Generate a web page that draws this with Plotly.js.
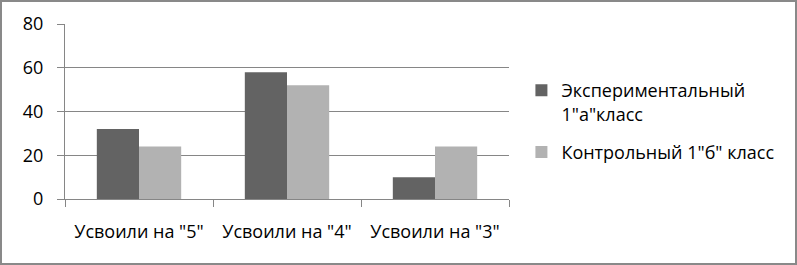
<!DOCTYPE html>
<html><head><meta charset="utf-8">
<script src="https://cdn.plot.ly/plotly-3.0.1.min.js"></script>
<style>
html,body{margin:0;padding:0;background:#fff;}
#wrap{width:797px;height:265px;box-sizing:border-box;border:2px solid #898989;}
#chart{width:793px;height:261px;}
</style></head>
<body><div id="wrap"><div id="chart"></div></div>
<script>
const categories = ['Усвоили на "5"', 'Усвоили на "4"', 'Усвоили на "3"'];
const seriesNames = ['Экспериментальный<br>1"а"класс', 'Контрольный 1"б" класс'];
const experimental = [32, 58, 10];
const control = [24, 52, 24];
const yTicks = [0, 20, 40, 60, 80];

const colors = ['#636363', '#b2b2b2'];
const font = {family: 'Open Sans, sans-serif', size: 18, color: '#000'};

const traces = [
  {type: 'bar', x: categories, y: experimental, name: seriesNames[0], legendgroup: 'a', marker: {color: colors[0]}, hoverinfo: 'skip'},
  {type: 'bar', x: categories, y: control, name: seriesNames[1], legendgroup: 'b', marker: {color: colors[1]}, hoverinfo: 'skip'}
];

const layout = {
  width: 793, height: 261,
  margin: {l: 63, r: 286, t: 22, b: 64},
  paper_bgcolor: '#fff', plot_bgcolor: '#fff',
  font: font,
  barmode: 'group', bargap: 0.43, bargroupgap: 0,
  showlegend: true,
  legend: {xref: 'container', yref: 'container', x: 0.655, y: 0.732, xanchor: 'left', yanchor: 'top',
    font: font, traceorder: 'grouped', tracegroupgap: 12, valign: 'top', itemwidth: 30, bgcolor: 'rgba(0,0,0,0)'},
  xaxis: {
    type: 'category', tickson: 'boundaries', ticks: 'outside', ticklen: 7, tickcolor: '#868686', tickwidth: 1,
    showline: true, linecolor: '#868686', linewidth: 1, showgrid: false, zeroline: false,
    ticklabelstandoff: 16, fixedrange: true
  },
  yaxis: {
    range: [0, 80], tickvals: yTicks, ticks: 'outside', ticklen: 7, tickcolor: '#868686',
    showgrid: true, gridcolor: '#868686', gridwidth: 1, showline: true, linecolor: '#868686',
    zeroline: false, ticklabelstandoff: 10, fixedrange: true
  }
};

Plotly.newPlot('chart', traces, layout, {displayModeBar: false, staticPlot: true});
</script></body></html>
